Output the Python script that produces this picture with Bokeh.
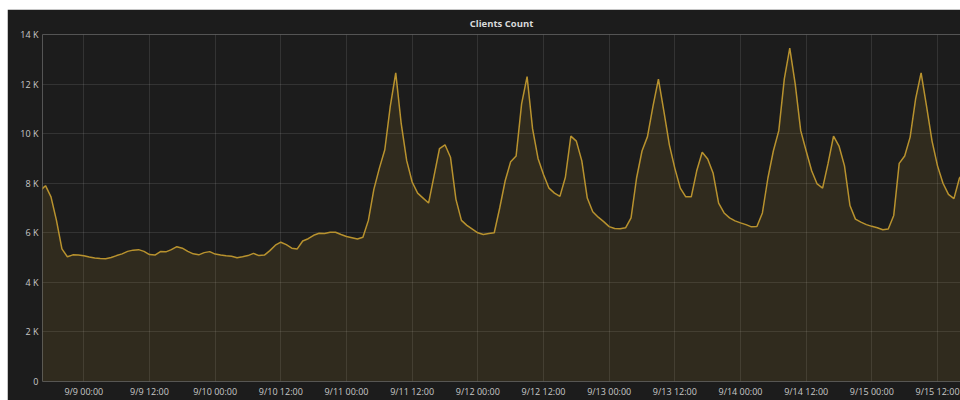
import pandas as pd
from bokeh.plotting import figure
from bokeh.layouts import column, row
from bokeh.models import FixedTicker, Range1d, Spacer
from bokeh.embed import file_html
from bokeh.resources import INLINE

# hourly samples starting 9/8 16:00
series_start = "2018-09-08 16:00"
clients = [
    7700, 7900, 7450, 6500, 5350, 5030, 5110, 5100,            # 9/8 16:00-23:00
    5070, 5020, 4980, 4960, 4950, 5000, 5080, 5150,            # 9/9 00-07
    5250, 5300, 5320, 5250, 5120, 5100, 5240, 5230,            # 9/9 08-15
    5320, 5440, 5380, 5250, 5150, 5110, 5200, 5240,            # 9/9 16-23
    5140, 5100, 5070, 5050, 4990, 5030, 5080, 5170,            # 9/10 00-07
    5080, 5100, 5280, 5500, 5620, 5520, 5380, 5350,            # 9/10 08-15
    5670, 5760, 5900, 5980, 5970, 6020, 6020, 5930,            # 9/10 16-23
    5850, 5800, 5750, 5820, 6500, 7750, 8600, 9350,            # 9/11 00-07
    11100, 12450, 10400, 8910, 8050, 7600, 7400, 7200,         # 9/11 08-15
    8300, 9400, 9550, 9050, 7350, 6500, 6300, 6150,            # 9/11 16-23
    6000, 5930, 5970, 6000, 7000, 8100, 8870, 9100,            # 9/12 00-07
    11200, 12300, 10200, 9000, 8350, 7800, 7600, 7470,         # 9/12 08-15
    8240, 9900, 9700, 8900, 7400, 6850, 6630, 6450,            # 9/12 16-23
    6250, 6170, 6160, 6200, 6600, 8200, 9300, 9880,            # 9/13 00-07
    11100, 12200, 10900, 9550, 8600, 7800, 7450, 7450,         # 9/13 08-15
    8500, 9250, 8980, 8400, 7200, 6800, 6600, 6480,            # 9/13 16-23
    6400, 6330, 6240, 6250, 6800, 8200, 9300, 10120,           # 9/14 00-07
    12200, 13450, 12000, 10120, 9300, 8500, 7970, 7800,        # 9/14 08-15
    8800, 9900, 9500, 8700, 7100, 6550, 6430, 6330,            # 9/14 16-23
    6260, 6200, 6120, 6150, 6700, 8800, 9100, 9860,            # 9/15 00-07
    11400, 12450, 11100, 9700, 8700, 8000, 7550, 7380,         # 9/15 08-15
    8200, 8500,                                                # 9/15 16-17
]
view_start = "2018-09-08 16:27"
view_end = "2018-09-15 16:12"

y_ticks = [0, 2000, 4000, 6000, 8000, 10000, 12000, 14000]
y_tick_labels = ["0", "2 K", "4 K", "6 K", "8 K", "10 K", "12 K", "14 K"]
x_tick_times = ["2018-09-09 00:00", "2018-09-09 12:00", "2018-09-10 00:00", "2018-09-10 12:00",
                "2018-09-11 00:00", "2018-09-11 12:00", "2018-09-12 00:00", "2018-09-12 12:00",
                "2018-09-13 00:00", "2018-09-13 12:00", "2018-09-14 00:00", "2018-09-14 12:00",
                "2018-09-15 00:00", "2018-09-15 12:00"]
x_tick_labels = ["9/9 00:00", "9/9 12:00", "9/10 00:00", "9/10 12:00", "9/11 00:00", "9/11 12:00",
                 "9/12 00:00", "9/12 12:00", "9/13 00:00", "9/13 12:00", "9/14 00:00", "9/14 12:00",
                 "9/15 00:00", "9/15 12:00"]


def ms(s):
    return pd.Timestamp(s).value / 1e6


times = pd.date_range(series_start, periods=len(clients), freq="h")
xs = [t.value / 1e6 for t in times]
tick_ms = [ms(t) for t in x_tick_times]

p = figure(width=953, height=391, output_backend="svg", toolbar_location=None,
           x_range=Range1d(ms(view_start), ms(view_end)), y_range=Range1d(0, 14000),
           min_border_left=35, min_border_right=0, min_border_top=25, min_border_bottom=19)

BG = "#1c1c1c"
p.background_fill_color = BG
p.border_fill_color = BG
p.outline_line_color = None

p.title.text = "Clients Count"
p.title.align = "center"
p.title.text_color = "#d8d9da"
p.title.text_font = "Open Sans"
p.title.text_font_size = "9.5px"
p.title.text_font_style = "bold"
p.title.standoff = 9

p.varea(x=xs, y1=0, y2=clients, fill_color="#e0ad35", fill_alpha=0.1)
p.line(x=xs, y=clients, line_color="#b8922e", line_width=1.5)

for ax in (p.xaxis[0], p.yaxis[0]):
    ax.axis_line_color = None
    ax.major_tick_line_color = None
    ax.minor_tick_line_color = None
    ax.major_tick_out = 0
    ax.major_tick_in = 0
    ax.minor_tick_out = 0
    ax.minor_tick_in = 0
    ax.major_label_text_color = "#c8c8c8"
    ax.major_label_text_font = "Open Sans"
    ax.major_label_text_font_size = "9px"

p.yaxis[0].ticker = FixedTicker(ticks=y_ticks)
p.yaxis[0].major_label_overrides = dict(zip(y_ticks, y_tick_labels))
p.yaxis[0].major_label_standoff = 4
p.xaxis[0].ticker = FixedTicker(ticks=tick_ms)
p.xaxis[0].major_label_overrides = dict(zip(tick_ms, x_tick_labels))
p.xaxis[0].major_label_standoff = 3

p.xgrid.grid_line_color = "#ffffff"
p.xgrid.grid_line_alpha = 0.1
p.ygrid.grid_line_color = "#ffffff"
p.ygrid.grid_line_alpha = 0.1
p.xgrid.ticker = FixedTicker(ticks=tick_ms)
p.ygrid.ticker = FixedTicker(ticks=y_ticks)

layout = column(Spacer(width=960, height=9),
                row(Spacer(width=7, height=391), p, spacing=0),
                spacing=0)

html = file_html(layout, INLINE)
html = html.replace("<body>", '<body style="background-color:#141414; overflow:hidden;">', 1)
open("out.html", "w").write(html)
